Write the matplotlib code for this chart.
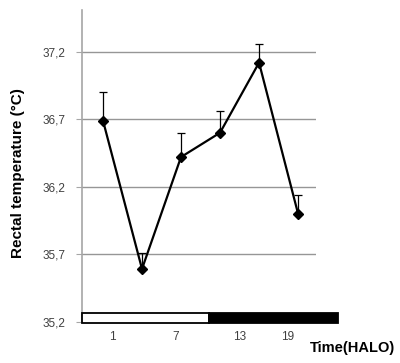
import matplotlib
matplotlib.use('Agg')
from matplotlib import pyplot as plt
from matplotlib.patches import Rectangle
import numpy as np

# rectal temperature per time point (mean, upper SEM)
temp = [36.69, 35.59, 36.42, 36.60, 37.12, 36.00]
err_up = [0.21, 0.12, 0.18, 0.16, 0.14, 0.14]
x_pos = np.arange(len(temp))

y_ticks = [35.2, 35.7, 36.2, 36.7, 37.2]
y_labels = ['35,2', '35,7', '36,2', '36,7', '37,2']
x_tick_pos = [0.23, 1.87, 3.51, 4.72]
x_labels = ['1', '7', '13', '19']

# light / dark bar (in x data units)
light = (-0.538, 2.73)
dark = (2.73, 6.03)

plt.rcParams['font.family'] = ['Liberation Sans', 'DejaVu Sans']

fig = plt.figure(figsize=(4.0, 3.63), dpi=100)
ax = fig.add_axes([0.205, 0.1143, 0.585, 0.858])

ax.set_xlim(-0.538, 5.46)
ax.set_ylim(35.2, 37.51)

for yv in y_ticks[1:]:
    ax.axhline(yv, color='#969696', lw=1, zorder=1)

ax.errorbar(x_pos, temp, yerr=[np.zeros(len(err_up)), err_up], fmt='none',
            ecolor='black', elinewidth=0.9, capsize=3, capthick=0.9, zorder=2)
ax.plot(x_pos, temp, color='black', lw=1.6, marker='D', markersize=5.5, zorder=3)

bar_lo, bar_hi = 35.19, 35.265
ax.add_patch(Rectangle((light[0], bar_lo), light[1] - light[0], bar_hi - bar_lo,
                       facecolor='white', edgecolor='black', lw=1.3, clip_on=False, zorder=4))
ax.add_patch(Rectangle((dark[0], bar_lo), dark[1] - dark[0], bar_hi - bar_lo,
                       facecolor='black', edgecolor='black', lw=1.3, clip_on=False, zorder=4))

for s in ['top', 'right', 'bottom']:
    ax.spines[s].set_visible(False)
ax.spines['left'].set_color('#a6a6a6')
ax.spines['left'].set_linewidth(1.2)

ax.set_yticks(y_ticks)
ax.set_yticklabels(y_labels, fontsize=8.5, color='#404040')
ax.tick_params(axis='y', length=4, color='#a6a6a6', pad=8)
ax.set_xticks(x_tick_pos)
ax.set_xticklabels(x_labels, fontsize=8.5, color='#404040')
ax.tick_params(axis='x', length=0, pad=7)

fig.text(0.045, 0.523, 'Rectal temperature (°C)', rotation=90, fontsize=11,
         fontweight='bold', ha='center', va='center')
fig.text(0.88, 0.04, 'Time(HALO)', fontsize=10.5, fontweight='bold',
         ha='center', va='center')

fig.savefig('out.png', dpi=100)
